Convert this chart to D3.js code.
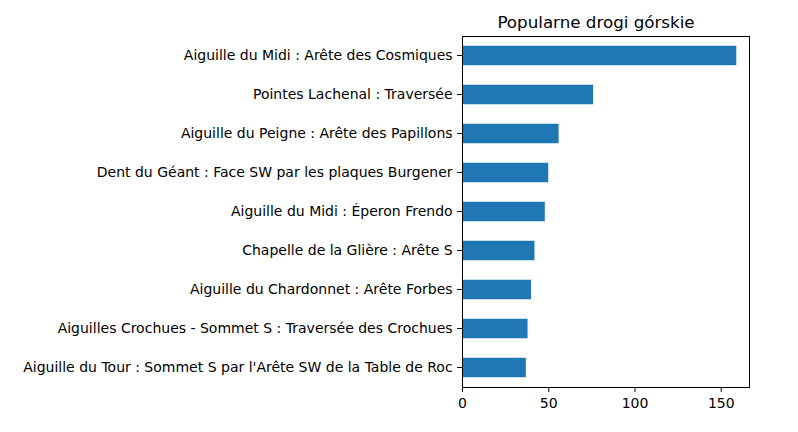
<!DOCTYPE html>
<html lang="en">
<head>
    <meta charset="UTF-8">
    <title>Popularne drogi górskie</title>
    <script src="https://d3js.org/d3.v7.min.js"></script>
    <style>
        body { margin: 0; background: #fff; }
        svg text { font-family: "DejaVu Sans", sans-serif; }
        .tick text { fill: #000; }
    </style>
</head>
<body>
    <svg width="798" height="432"></svg>

    <script>
        // Routes (top to bottom) and their counts
        const routes = [
            "Aiguille du Midi : Arête des Cosmiques",
            "Pointes Lachenal : Traversée",
            "Aiguille du Peigne : Arête des Papillons",
            "Dent du Géant : Face SW par les plaques Burgener",
            "Aiguille du Midi : Éperon Frendo",
            "Chapelle de la Glière : Arête S",
            "Aiguille du Chardonnet : Arête Forbes",
            "Aiguilles Crochues - Sommet S : Traversée des Crochues",
            "Aiguille du Tour : Sommet S par l'Arête SW de la Table de Roc"
        ];
        const counts = [159, 76, 56, 50, 48, 42, 40, 38, 37];
        const xTicks = [0, 50, 100, 150];
        const title = "Popularne drogi górskie";

        const svg = d3.select("svg"),
            margin = { top: 36, right: 48, bottom: 45, left: 462 },
            width = 750 - margin.left,
            height = 387 - margin.top;

        const g = svg.append("g").attr("transform", `translate(${margin.left},${margin.top})`);

        // x scale padded like matplotlib (5% margin)
        const x = d3.scaleLinear()
            .domain([0, d3.max(counts) * 1.05])
            .range([0, width]);

        const y = d3.scaleBand()
            .domain(routes)
            .range([0, height])
            .paddingInner(0.5)
            .paddingOuter(0.25);

        // bars
        g.selectAll(".bar")
            .data(routes)
            .enter().append("rect")
            .attr("class", "bar")
            .attr("x", x(0))
            .attr("y", d => y(d))
            .attr("width", (d, i) => x(counts[i]) - x(0))
            .attr("height", y.bandwidth())
            .attr("fill", "#1f77b4");

        // axes
        const xAxis = g.append("g")
            .attr("transform", `translate(0,${height})`)
            .call(d3.axisBottom(x).tickValues(xTicks).tickSize(4.9).tickPadding(4.5));
        const yAxis = g.append("g")
            .call(d3.axisLeft(y).tickSize(4.9).tickPadding(4.5));

        [xAxis, yAxis].forEach(a => {
            a.attr("font-family", "DejaVu Sans").attr("font-size", 14);
            a.select(".domain").remove();
            a.selectAll(".tick line").attr("stroke", "#000").attr("stroke-width", 1);
        });
        xAxis.selectAll(".tick text").attr("dy", "0.8em");

        // frame
        g.append("rect")
            .attr("x", 0.5).attr("y", 0.5)
            .attr("width", width - 1).attr("height", height)
            .attr("fill", "none")
            .attr("stroke", "#000")
            .attr("stroke-width", 1);

        // title
        svg.append("text")
            .attr("x", 596)
            .attr("y", margin.top - 8.3)
            .attr("text-anchor", "middle")
            .attr("font-size", "16.7px")
            .attr("fill", "#000")
            .text(title);
    </script>
</body>
</html>
